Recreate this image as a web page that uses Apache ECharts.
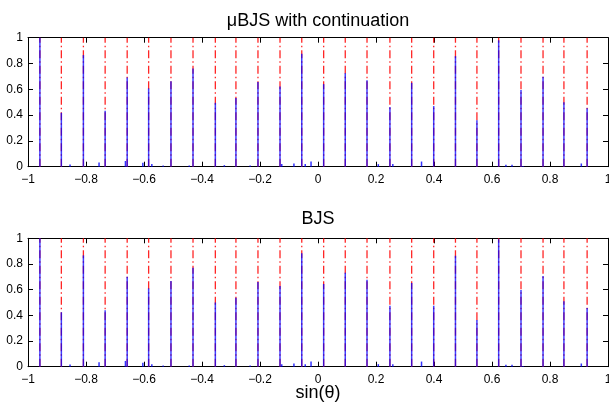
<!DOCTYPE html>
<html><head><meta charset="utf-8">
<script src="https://cdn.jsdelivr.net/npm/echarts@6/dist/echarts.min.js"></script>
<style>html,body{margin:0;padding:0;background:#fff}#c{width:609px;height:404px}</style>
</head><body><div id="c"></div>
<script>
// ---- data ----
const trueDirections = [-0.959, -0.885, -0.809, -0.734, -0.658, -0.584, -0.507, -0.431, -0.354, -0.283, -0.207, -0.131, -0.056,
  0.0195, 0.094, 0.169, 0.248, 0.323, 0.399, 0.474, 0.548, 0.623, 0.700, 0.776, 0.848, 0.928];
const peakHeightsMuBJS = [1.0, 0.418, 0.865, 0.434, 0.692, 0.607, 0.663, 0.762, 0.495, 0.532, 0.656, 0.622, 0.875,
  0.64, 0.725, 0.671, 0.462, 0.65, 0.47, 0.857, 0.361, 0.98, 0.594, 0.697, 0.50, 0.454];
const peakHeightsBJS = [1.0, 0.424, 0.867, 0.44, 0.70, 0.61, 0.667, 0.77, 0.50, 0.537, 0.66, 0.628, 0.883,
  0.644, 0.732, 0.678, 0.475, 0.652, 0.475, 0.864, 0.364, 0.992, 0.597, 0.706, 0.509, 0.457];
const spuriousPosMuBJS = [-0.855, -0.755, -0.664, -0.604, -0.573, -0.534, -0.444, -0.323, -0.234, -0.125, -0.083, -0.044, -0.024,
  0.208, 0.258, 0.357, 0.648, 0.669, 0.707, 0.908];
const spuriousValMuBJS = [0.018, 0.033, 0.044, 0.03, 0.02, 0.01, 0.01, 0.012, 0.01, 0.02, 0.025, 0.02, 0.04,
  0.02, 0.02, 0.04, 0.015, 0.015, 0.005, 0.025];
const spuriousPosBJS = [-0.855, -0.755, -0.664, -0.604, -0.573, -0.534, -0.444, -0.323, -0.234, -0.125, -0.083, -0.044, -0.024,
  0.208, 0.258, 0.357, 0.648, 0.669, 0.707, 0.908];
const spuriousValBJS = [0.018, 0.035, 0.045, 0.03, 0.02, 0.01, 0.01, 0.012, 0.01, 0.02, 0.025, 0.02, 0.04,
  0.02, 0.02, 0.04, 0.015, 0.015, 0.005, 0.025];
const xTickLabels = ['\u22121', '\u22120.8', '\u22120.6', '\u22120.4', '\u22120.2', '0', '0.2', '0.4', '0.6', '0.8', '1'];
const yTickLabels = ['0', '0.2', '0.4', '0.6', '0.8', '1'];
const panelTitles = ['\u03bcBJS with continuation', 'BJS'];
const xAxisTitle = 'sin(\u03b8)';

// ---- chart ----
const FONT = '"Liberation Sans", Arial, Helvetica, sans-serif';
const chart = echarts.init(document.getElementById('c'));
const grids = [
  { left: 28, width: 580, top: 37.7, height: 129 },
  { left: 28, width: 580, top: 238.3, height: 128.4 }
];
function xLab(v) { return xTickLabels[Math.round((v + 1) / 0.2)]; }
function yLab(v) { return yTickLabels[Math.round(v / 0.2)]; }
const xAxes = [], yAxes = [];
grids.forEach((g, i) => {
  const common = {
    gridIndex: i, type: 'value', splitLine: { show: false },
    axisLine: { show: true, onZero: false, lineStyle: { color: '#000', width: 1 } },
    axisTick: { show: true, inside: true, length: 5, lineStyle: { color: '#000', width: 1 } }
  };
  xAxes.push(Object.assign({}, common, { min: -1, max: 1, interval: 0.2, position: 'bottom',
    axisLabel: { show: true, formatter: xLab, color: '#000', fontSize: 12, fontFamily: FONT, margin: 7 } }));
  xAxes.push(Object.assign({}, common, { min: -1, max: 1, interval: 0.2, position: 'top', axisLabel: { show: false } }));
  yAxes.push(Object.assign({}, common, { min: 0, max: 1, interval: 0.2, position: 'left',
    axisLabel: { show: true, formatter: yLab, color: '#000', fontSize: 12, fontFamily: FONT, margin: 5 } }));
  yAxes.push(Object.assign({}, common, { min: 0, max: 1, interval: 0.2, position: 'right', axisLabel: { show: false } }));
});
function stem(color, width, dash, opacity) {
  return function (params, api) {
    const p0 = api.coord([api.value(0), 0]);
    const p1 = api.coord([api.value(0), api.value(1)]);
    return { type: 'line', shape: { x1: p0[0], y1: p0[1], x2: p1[0], y2: p1[1] },
      style: { stroke: color, lineWidth: width, lineDash: dash, opacity: opacity } };
  };
}
function zip(a, b) { return a.map((v, i) => [v, b[i]]); }
const panels = [
  { peaks: peakHeightsMuBJS, sp: spuriousPosMuBJS, sv: spuriousValMuBJS },
  { peaks: peakHeightsBJS, sp: spuriousPosBJS, sv: spuriousValBJS }
];
const series = [];
panels.forEach((p, i) => {
  series.push({ type: 'custom', xAxisIndex: 2 * i, yAxisIndex: 2 * i, silent: true, z: 2,
    data: trueDirections.map(x => [x, 1]), renderItem: stem('#ff0000', 1.3, [8, 3, 1.5, 3], 0.85) });
  series.push({ type: 'custom', xAxisIndex: 2 * i, yAxisIndex: 2 * i, silent: true, z: 3,
    data: zip(trueDirections, p.peaks), renderItem: stem('#0000ff', 1.5, null, 0.75) });
  series.push({ type: 'custom', xAxisIndex: 2 * i, yAxisIndex: 2 * i, silent: true, z: 3,
    data: zip(p.sp, p.sv), renderItem: stem('#0000ff', 1.5, null, 0.8) });
});
chart.setOption({
  animation: false,
  backgroundColor: '#fff',
  grid: grids.map(g => Object.assign({ outerBoundsMode: 'none', containLabel: false }, g)),
  xAxis: xAxes, yAxis: yAxes, series: series,
  graphic: [
    { type: 'text', x: 318, y: 21.5, style: { text: panelTitles[0], font: '18px ' + FONT, fill: '#000', align: 'center', verticalAlign: 'middle' } },
    { type: 'text', x: 318, y: 219, style: { text: panelTitles[1], font: '18px ' + FONT, fill: '#000', align: 'center', verticalAlign: 'middle' } },
    { type: 'text', x: 318, y: 393.5, style: { text: xAxisTitle, font: '18px ' + FONT, fill: '#000', align: 'center', verticalAlign: 'middle' } }
  ]
});
</script></body></html>
